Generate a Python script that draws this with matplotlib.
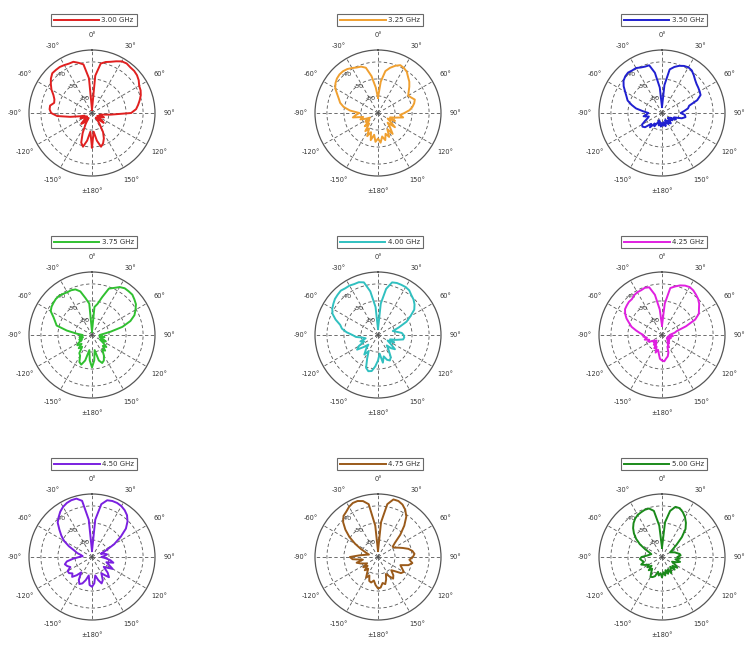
import numpy as np
import matplotlib
matplotlib.use("Agg")
import matplotlib.pyplot as plt

# Measured radiation patterns (dB), sampled every 5 degrees, 0 deg = broadside, clockwise
angles_deg = list(range(0, 360, 5))

freq_labels = ["3.00 GHz", "3.25 GHz", "3.50 GHz",
               "3.75 GHz", "4.00 GHz", "4.25 GHz",
               "4.50 GHz", "4.75 GHz", "5.00 GHz"]

colors = ["#e02020", "#f0a030", "#2020d0",
          "#30c030", "#30c0c0", "#e020e0",
          "#7a20e0", "#9a5a1a", "#1a8a1a"]

p_300 = [-68, -48, -40.5, -39, -38, -36.5, -35, -34.5, -35, -35, -35.5, -36.5,
         -38, -38.5, -39.5, -41, -42.5, -44, -47, -59, -64.5, -65.5, -62.5, -64.5,
         -66.5, -63.5, -61, -64.5, -66.5, -62.5, -57, -53.5, -51, -49.5, -53.5, -59,
         -49.5, -59, -53.5, -49.5, -51.5, -57, -62.5, -66.5, -62.5, -61, -64.5, -66.5,
         -64.5, -62.5, -65.5, -62.5, -57, -49.5, -46, -45, -45, -47, -46.5, -45,
         -42.5, -40.5, -38.5, -37, -37, -37, -37.5, -38, -38, -39.5, -41, -49.5]

p_325 = [-61, -51.5, -45, -42.5, -40.5, -39, -39.5, -40.5, -42.5, -44, -46, -48,
         -49.5, -48.5, -47, -48, -49.5, -51.5, -54.5, -57, -55, -59.5, -62.5, -59,
         -63.5, -61, -57, -62, -59, -55, -59, -54.5, -57, -53.5, -56, -52.5,
         -55, -53, -57, -53.5, -58, -55, -59.5, -57, -62, -59, -63.5, -61,
         -64.5, -62, -59, -61, -55, -57, -59, -53.5, -49.5, -47, -45.5, -43.5,
         -41, -39.5, -38.5, -38, -38, -38.5, -39.5, -40.5, -41, -42.5, -48, -55]

p_350 = [-66.5, -53.5, -44, -42, -40.5, -39.5, -39, -39.5, -41, -42.5, -43.5, -44,
         -44.5, -45, -48, -53.5, -54.5, -57, -59, -56.5, -56, -58, -62.5, -61,
         -64.5, -62.5, -65.5, -63.5, -62, -64.5, -62.5, -65.5, -63.5, -62, -64.5, -62.5,
         -64, -62, -64.5, -62.5, -65.5, -63.5, -61, -62.5, -59, -61, -57, -56,
         -56.5, -59, -61, -62, -59, -61, -62, -59, -54.5, -51.5, -48.5, -47,
         -45, -42.5, -40.5, -39.5, -39, -39.5, -39.5, -40.5, -41, -41, -46, -55]

p_375 = [-68, -53.5, -51.5, -47, -41, -39.5, -37.5, -36.5, -36.5, -36.5, -37.5, -38.5,
         -40.5, -42.5, -46, -51.5, -59, -63.5, -65.5, -64.5, -62.5, -65.5, -63.5, -61,
         -64.5, -62, -59, -61, -58, -59.5, -56, -53.5, -52.5, -54.5, -61, -55,
         -51, -55, -61, -54.5, -51.5, -52.5, -56, -57, -61, -59, -62, -59.5,
         -61, -63.5, -62, -64.5, -62.5, -64.5, -64.5, -61, -55, -48.5, -47, -45,
         -42, -41, -40.5, -40, -40, -40.5, -41, -41, -41.5, -43.5, -48, -51.5]

p_400 = [-66.5, -51.5, -42.5, -38, -37.5, -37.5, -37.5, -38, -39.5, -40.5, -42, -44,
         -48, -51.5, -57, -61, -59, -56, -55, -54.5, -55, -59, -62.5, -59.5,
         -63.5, -61, -57, -59, -62, -59, -55, -53.5, -54.5, -57, -53.5, -59,
         -55, -51.5, -48.5, -48, -49.5, -55, -59, -56, -59, -62, -59, -55,
         -57, -61, -59, -62.5, -61, -57, -55, -51.5, -48.5, -47, -43.5, -40.5,
         -39, -38, -37, -36.5, -36, -36.5, -36.5, -37, -37, -38, -44, -53.5]

p_425 = [-64.5, -51.5, -42, -40.5, -39, -38, -37.5, -38, -39, -40, -41.5, -43.5,
         -45, -48.5, -55, -61, -62.5, -64.5, -65.5, -63.5, -64.5, -66.5, -64.5, -66.5,
         -65, -66.5, -64.5, -65.5, -63.5, -64.5, -62, -62.5, -59, -57, -56, -54.5,
         -55, -56, -59, -61, -59, -62.5, -61, -64.5, -62.5, -65.5, -63.5, -64.5,
         -62.5, -61, -62, -59.5, -61, -59, -59, -57, -54.5, -51.5, -49.5, -47,
         -45, -43.5, -43, -42.5, -42.5, -41.5, -41, -41, -40.5, -41, -46, -55]

p_450 = [-66.5, -48, -38.5, -35.5, -35, -35, -35.5, -36.5, -38, -40.5, -44, -49.5,
         -55, -61, -64.5, -62.5, -61, -62.5, -64.5, -62, -59, -57, -61, -59,
         -56, -59, -61, -57, -54.5, -57, -59, -55, -53.5, -56, -59, -54.5,
         -52.5, -53.5, -59, -56, -53.5, -52.5, -54.5, -59, -56, -53.5, -55, -53.5,
         -53.5, -56, -54.5, -53.5, -55, -59, -62.5, -64.5, -63.5, -61, -59, -55,
         -51, -48, -45, -41.5, -39.5, -37.5, -36, -35, -34.5, -34.5, -36.5, -48]

p_475 = [-66.5, -49.5, -38.5, -35, -35, -36, -38, -41, -46, -51.5, -57, -59.5,
         -59, -57, -54.5, -51.5, -49.5, -48.5, -49.5, -51.5, -49.5, -51.5, -56, -54.5,
         -52.5, -53.5, -57, -59, -56, -54.5, -57, -59, -56, -53.5, -54.5, -52,
         -51.5, -53.5, -56, -54.5, -55, -58, -56, -59, -61, -59, -62, -59.5,
         -62.5, -61, -59, -57, -61, -55, -53.5, -59, -62.5, -64.5, -62.5, -59,
         -54.5, -49.5, -45, -41, -38.5, -37.5, -36, -35, -35, -36, -38.5, -51.5]

p_500 = [-64.5, -49.5, -42.5, -39.5, -39.5, -41, -43, -45.5, -48.5, -53.5, -59, -62.5,
         -64.5, -63.5, -62, -61, -59.5, -59, -61, -59.5, -62, -59, -61, -63.5,
         -61, -59, -62, -59.5, -62.5, -61, -59, -62, -59.5, -62, -59, -61,
         -58, -60.5, -59, -61, -58, -57, -56.5, -59, -61, -59, -62, -59.5,
         -61, -59, -57, -59, -58, -57, -58, -61, -62.5, -63.5, -62, -59,
         -55, -51.5, -48.5, -46, -44, -42.5, -41.5, -41, -40.5, -40.5, -42.5, -51.5]

patterns = [p_300, p_325, p_350, p_375, p_400, p_425, p_450, p_475, p_500]

r_ticks = [-60, -50, -40]
r_min, r_max = -70, -33
theta_ticks = list(range(0, 360, 30))
theta_labels = ["0°", "30°", "60°", "90°", "120°", "150°", "±180°",
                "-150°", "-120°", "-90°", "-60°", "-30°"]

W, H = 746, 646
fig = plt.figure(figsize=(W / 100, H / 100), dpi=100)
fig.patch.set_facecolor("white")

col_cx = [92, 378, 662]
row_cy = [113, 335, 557]
radius_px = 63

for i, (lab, vals, col) in enumerate(zip(freq_labels, patterns, colors)):
    cx = col_cx[i % 3]
    cy = row_cy[i // 3]
    left = (cx - radius_px) / W
    bottom = 1 - (cy + radius_px) / H
    ax = fig.add_axes([left, bottom, 2 * radius_px / W, 2 * radius_px / H],
                      projection="polar")
    th = np.deg2rad(np.append(angles_deg, angles_deg[0]))
    rr = np.append(vals, vals[0])
    line, = ax.plot(th, rr, color=col, lw=1.4, label=lab)
    ax.set_theta_zero_location("N")
    ax.set_theta_direction(-1)
    ax.set_rlim(r_min, r_max)
    ax.set_rticks(r_ticks)
    ax.set_yticklabels([str(t) for t in r_ticks], fontsize=4.5, color="#333333")
    ax.set_rlabel_position(315)
    ax.set_thetagrids(theta_ticks, theta_labels, fontsize=4.8, color="#333333")
    ax.tick_params(axis="x", pad=0)
    ax.grid(True, ls=(0, (4, 3)), color="#555555", lw=0.6)
    ax.spines["polar"].set_color("#555555")
    ax.spines["polar"].set_linewidth(0.9)
    ax.set_facecolor("white")

    # legend box above each pattern
    lx = (cx + 2) / W
    ly = 1 - (cy - 93) / H
    leg = fig.legend(handles=[line], labels=[lab], loc="center",
                     bbox_to_anchor=(lx, ly), fontsize=5, frameon=True,
                     fancybox=False, edgecolor="#444444", handlelength=6.5,
                     handletextpad=0.3, borderpad=0.45, borderaxespad=0,
                     labelcolor="#333333")
    leg.get_frame().set_linewidth(0.8)

fig.savefig("out.png", dpi=100, facecolor="white")
